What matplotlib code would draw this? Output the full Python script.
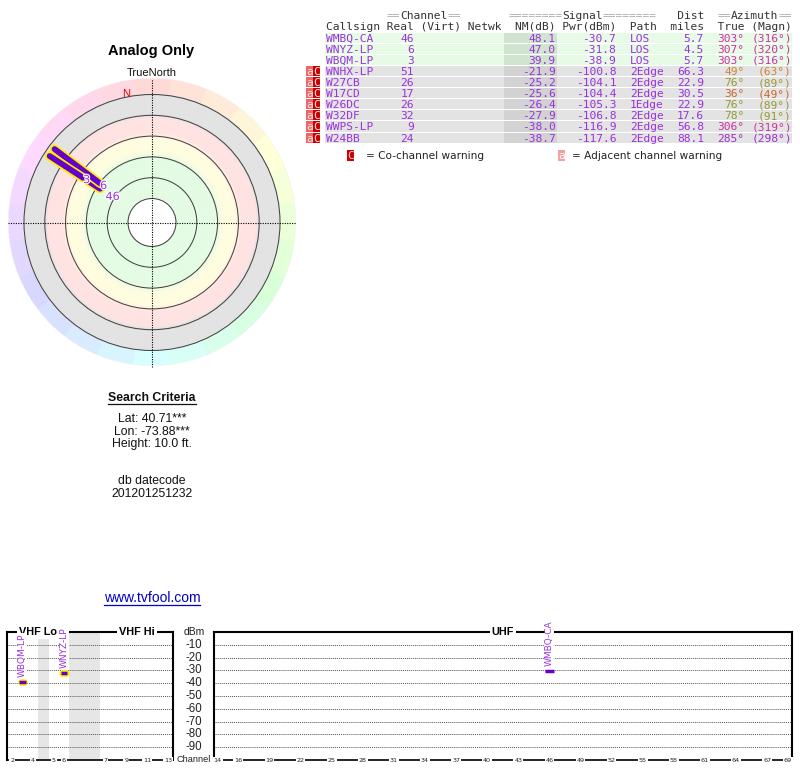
"""TV Fool style signal report: polar plot, station table and channel chart."""
import numpy as np
import matplotlib
matplotlib.use("Agg")
import matplotlib.pyplot as plt
from matplotlib.colors import LinearSegmentedColormap, hsv_to_rgb, to_rgb
from matplotlib.patches import Circle, Rectangle
from matplotlib import patheffects
from matplotlib.transforms import blended_transform_factory

# ---- station table ----
callsigns = ["WMBQ-CA", "WNYZ-LP", "WBQM-LP", "WNHX-LP", "W27CB", "W17CD",
             "W26DC", "W32DF", "WWPS-LP", "W24BB"]
real_ch = [46, 6, 3, 51, 26, 17, 26, 32, 9, 24]
nm_db = [48.1, 47.0, 39.9, -21.9, -25.2, -25.6, -26.4, -27.9, -38.0, -38.7]
pwr_dbm = [-30.7, -31.8, -38.9, -100.8, -104.1, -104.4, -105.3, -106.8, -116.9, -117.6]
path_type = ["LOS", "LOS", "LOS", "2Edge", "2Edge", "2Edge", "1Edge", "2Edge", "2Edge", "2Edge"]
dist_mi = [5.7, 4.5, 5.7, 66.3, 22.9, 30.5, 22.9, 17.6, 56.8, 88.1]
az_true = [303, 307, 303, 49, 76, 36, 76, 78, 306, 285]
az_magn = [316, 320, 316, 63, 89, 49, 89, 91, 319, 298]
warnings = ["", "", "", "aC", "aC", "aC", "aC", "aC", "aC", "aC"]

header_1 = " " * 9 + "==Channel==" + " " * 7 + "=" * 8 + "Signal" + "=" * 8 + "   Dist  ==Azimuth=="
header_2 = "Callsign Real (Virt) Netwk  NM(dB) Pwr(dBm)  Path  miles  True (Magn)"

criteria = ["Lat: 40.71***", "Lon: -73.88***", "Height: 10.0 ft."]
datecode = ["db datecode", "201201251232"]

# ---- channel chart axes ----
dbm_ticks = [-10, -20, -30, -40, -50, -60, -70, -80, -90]
vhf_ticks = [2, 4, 5, 6, 7, 9, 11, 13]
uhf_ticks = [14, 16, 19, 22, 25, 28, 31, 34, 37, 40, 43, 46, 49, 52, 55, 58, 61, 64, 67, 69]

W, H = 800, 768
SANS = "Liberation Sans"
MONO = "DejaVu Sans Mono"
TXT_PURPLE = "#9933dd"
BAR_PURPLE = "#6600cc"
YELLOW = "#ffee00"

az_cmap = LinearSegmentedColormap.from_list("az", [
    (0 / 360, "#cc3333"), (36 / 360, "#cc6633"), (49 / 360, "#cc8833"),
    (76 / 360, "#999933"), (120 / 360, "#33aa33"), (180 / 360, "#33aaaa"),
    (240 / 360, "#3366cc"), (285 / 360, "#9933cc"), (303 / 360, "#cc33aa"),
    (1.0, "#cc3333")])


def vhf_slot(ch):
    # channels 4/5 and 6/7 are not adjacent in frequency
    if ch <= 4:
        return ch - 2
    if ch <= 6:
        return ch - 1
    return ch + 2


fig = plt.figure(figsize=(W / 100, H / 100), dpi=100)
bg = fig.add_axes([0, 0, 1, 1])
bg.set_xlim(0, W)
bg.set_ylim(H, 0)
bg.axis("off")

shown = [i for i in range(len(callsigns)) if nm_db[i] > 0]

# ---------------- table ----------------
X0, CW = 326.0, 6.75
ROW0, PITCH = 37.7, 11.1
FS_MONO = 8.07


def col_x(c):
    return X0 + c * CW


def header_line(s, y):
    c = 0
    while c < len(s):
        j = c
        while j < len(s) and (s[j] == "=") == (s[c] == "="):
            j += 1
        run = s[c:j]
        if run.strip():
            bg.text(col_x(c), y, run, family=MONO, fontsize=FS_MONO,
                    color="#aaaaaa" if run[0] == "=" else "#333333",
                    ha="left", va="center_baseline")
        c = j


header_line(header_1, 15.0)
header_line(header_2, 25.5)

for i in range(len(callsigns)):
    y = ROW0 + i * PITCH
    good = nm_db[i] > 0
    bg.add_patch(Rectangle((col_x(-0.15), y - PITCH / 2 + 0.5), col_x(69) - col_x(-0.15), PITCH - 1,
                           fc="#e6fae6" if good else "#e3e3e3", ec="none"))
    bg.add_patch(Rectangle((col_x(26.4), y - PITCH / 2 + 0.5), col_x(34.2) - col_x(26.4), PITCH - 1,
                           fc="#d0e4d0" if good else "#d2d2d2", ec="none"))
    kw = dict(family=MONO, fontsize=FS_MONO, color=TXT_PURPLE, va="center_baseline")
    bg.text(col_x(0), y, callsigns[i], ha="left", **kw)
    bg.text(col_x(13), y, str(real_ch[i]), ha="right", **kw)
    bg.text(col_x(34), y, f"{nm_db[i]:.1f}", ha="right", **kw)
    bg.text(col_x(43), y, f"{pwr_dbm[i]:.1f}", ha="right", **kw)
    bg.text(col_x(45), y, path_type[i], ha="left", **kw)
    bg.text(col_x(56), y, f"{dist_mi[i]:.1f}", ha="right", **kw)
    kw["color"] = az_cmap(az_true[i] / 360)
    bg.text(col_x(62), y, f"{az_true[i]}°", ha="right", **kw)
    bg.text(col_x(69), y, f"({az_magn[i]}°)", ha="right", **kw)
    for k, ch in enumerate(warnings[i]):
        x = 306 + 7 * k
        bg.add_patch(Rectangle((x, y - PITCH / 2 + 0.5), 7, PITCH - 1,
                               fc="#ee6666" if ch == "a" else "#cc0000", ec="none"))
        bg.text(x + 3.5, y, ch, family=MONO, fontsize=FS_MONO, color="#ffe8e8",
                ha="center", va="center_baseline")

# legend for warning markers
LEG_Y = 155
bg.add_patch(Rectangle((347, LEG_Y - 5.5), 6.5, 11, fc="#cc0000", ec="none"))
bg.text(350.2, LEG_Y, "C", family=MONO, fontsize=FS_MONO, color="#ffcccc", ha="center", va="center_baseline")
bg.text(366, LEG_Y, "= Co-channel warning", family="DejaVu Sans", fontsize=7.6,
        color="#222222", ha="left", va="center_baseline")
bg.add_patch(Rectangle((558, LEG_Y - 5.5), 7, 11, fc="#f4a0a0", ec="none"))
bg.text(561.5, LEG_Y, "a", family=MONO, fontsize=FS_MONO, color="#ffffff", ha="center", va="center_baseline")
bg.text(572, LEG_Y, "= Adjacent channel warning", family="DejaVu Sans", fontsize=7.6,
        color="#222222", ha="left", va="center_baseline")

# ---------------- polar plot ----------------
CX, CY, RP = 152.0, 222.5, 150
axp = fig.add_axes([(CX - RP) / W, (H - CY - RP) / H, 2 * RP / W, 2 * RP / H])
axp.set_xlim(-RP, RP)
axp.set_ylim(-RP, RP)
axp.axis("off")

g = np.linspace(-RP, RP, 601)
X, Y = np.meshgrid(g, g)
R = np.hypot(X, Y)
AZ = np.degrees(np.arctan2(X, Y)) % 360
stop_r = [0, 23.9, 24, 64, 72, 83, 90, 104, 107, 128.5]
stop_c = ["#ffffff", "#ffffff", "#e4fbe4", "#e4fbe4", "#fffde0", "#fffde0",
          "#ffe3e3", "#ffe3e3", "#e3e3e3", "#e3e3e3"]
rgb = np.stack([np.interp(R, stop_r, [to_rgb(c)[k] for c in stop_c]) for k in range(3)], axis=-1)
hue = (np.round(AZ / 15) % 24) * 15 / 360
wheel = hsv_to_rgb(np.stack([hue, np.full_like(hue, 0.15), np.ones_like(hue)], axis=-1))
ring = (R >= 128.5) & (R <= 144)
rgb[ring] = wheel[ring]
img = np.dstack([rgb, (R <= 144).astype(float)])
axp.imshow(img, extent=(-RP, RP, -RP, RP), origin="lower", interpolation="bilinear", zorder=0)

for r in np.linspace(24, 128, 6):
    axp.add_patch(Circle((0, 0), r, fill=False, ec="#444444", lw=0.75, zorder=1))
axp.plot([-144, 144], [0, 0], color="black", lw=0.8, dashes=(1, 1.2), zorder=1)
axp.plot([0, 0], [-144, 144], color="black", lw=0.8, dashes=(1, 1.2), zorder=1)

axp.text(0, 149, "TrueNorth", family=SANS, fontsize=8, ha="center", va="center", color="#111111")
decl = np.radians(az_magn[0] - az_true[0])
axp.text(-132 * np.sin(decl), 132 * np.cos(decl), "N", family=SANS, fontsize=8,
         color="#ee0000", ha="left", va="center")


def r_inner(nm):
    # radial NM scale of the polar plot (stronger signal -> closer to centre)
    return 122 - (nm - 23.5) * 2.44


for i in shown:
    a = np.radians(az_true[i])
    rr = np.array([r_inner(nm_db[i]), 122])
    axp.plot(rr * np.sin(a), rr * np.cos(a), color=YELLOW, lw=6.6, solid_capstyle="round", zorder=3)
    axp.plot(rr * np.sin(a), rr * np.cos(a), color=BAR_PURPLE, lw=4.2, solid_capstyle="round", zorder=3)

placed = []
for i in sorted(shown, key=lambda k: nm_db[k]):
    a = np.radians(az_true[i])
    r = r_inner(nm_db[i]) - 4
    while any(np.hypot(r * np.sin(a) - px, r * np.cos(a) - py) < 11 for px, py in placed):
        r -= 11
    placed.append((r * np.sin(a), r * np.cos(a)))
    axp.text(r * np.sin(a), r * np.cos(a), str(real_ch[i]), family="DejaVu Sans", fontsize=8,
             color=TXT_PURPLE, ha="center", va="center", zorder=5,
             path_effects=[patheffects.withStroke(linewidth=1.6, foreground="white")])

# ---------------- side texts ----------------
bg.text(151.5, 51, "Analog Only", family=SANS, fontsize=10.5, weight="bold", ha="center", va="center")
t_sc = bg.text(152, 398, "Search Criteria", family=SANS, fontsize=8.8, weight="bold",
               ha="center", va="center", color="#111111")
for k, s in enumerate(criteria):
    bg.text(152, 419.3 + 12.4 * k, s, family=SANS, fontsize=8.8, ha="center", va="center", color="#111111")
for k, s in enumerate(datecode):
    bg.text(152, 481.5 + 12.4 * k, s, family=SANS, fontsize=8.8, ha="center", va="center", color="#111111")
t_url = bg.text(152, 598, "www.tvfool.com", family=SANS, fontsize=10, ha="center", va="center", color="#0000cc")

# ---------------- channel chart ----------------
BOX_TOP, BOX_BOT = 632, 760
ax_v = fig.add_axes([7 / W, (H - BOX_BOT) / H, 166 / W, (BOX_BOT - BOX_TOP) / H])
ax_u = fig.add_axes([214 / W, (H - BOX_BOT) / H, 578 / W, (BOX_BOT - BOX_TOP) / H])
ax_v.set_xlim(-0.5, 15.5)
ax_u.set_xlim(13.65, 69.4)
for ax in (ax_v, ax_u):
    ax.set_ylim(-100, 0)
    ax.set_xticks([])
    ax.set_yticks([])
    for side, sp in ax.spines.items():
        sp.set_linewidth(1.2 if side == "bottom" else 1.5)
        sp.set_color("black")
    lo, hi = ax.get_xlim()
    ax.hlines(dbm_ticks, lo, hi, colors="#555555", lw=0.7, linestyles=(0, (1, 1)), zorder=1)

ax_v.axvspan(2.5, 3.5, color="#e6e6e6", lw=0, zorder=0)
ax_v.axvspan(5.5, 8.5, color="#e6e6e6", lw=0, zorder=0)

title_kw = dict(family=SANS, fontsize=7.8, weight="bold", ha="center", va="center", zorder=6,
                bbox=dict(fc="white", ec="none", pad=1.5), clip_on=False)
ax_v.text(2.5, 0, "VHF Lo", **title_kw)
ax_v.text(12, 0, "VHF Hi", **title_kw)
ax_u.text(sum(ax_u.get_xlim()) / 2, 0, "UHF", **title_kw)

tick_kw = dict(family="DejaVu Sans", fontsize=4.6, ha="center", va="center", zorder=6, color="#222222",
               bbox=dict(fc="white", ec="none", pad=0.6), clip_on=False)
for ch in vhf_ticks:
    ax_v.text(vhf_slot(ch), -100, str(ch), **tick_kw)
for ch in uhf_ticks:
    ax_u.text(ch, -100, str(ch), **tick_kw)

trans = blended_transform_factory(bg.transData, ax_v.transData)
for v in dbm_ticks:
    fig.text(194, v, str(v), transform=trans, family=SANS, fontsize=8.3, ha="center", va="center", color="#222222")
fig.text(194, 0, "dBm", transform=trans, family=SANS, fontsize=7.4, ha="center", va="center", color="#222222")
fig.text(194, -100, "Channel", transform=trans, family=SANS, fontsize=6.6, ha="center", va="center", color="#222222")

for i in shown:
    ch = real_ch[i]
    if ch < 14:
        ax, x = ax_v, vhf_slot(ch)
        ax.plot([x - 0.17, x + 0.17], [pwr_dbm[i]] * 2, color=YELLOW, lw=4.8, solid_capstyle="round", zorder=4)
        ax.plot([x - 0.32, x + 0.32], [pwr_dbm[i]] * 2, color=BAR_PURPLE, lw=2.5, solid_capstyle="butt", zorder=4)
    else:
        ax, x = ax_u, ch
        ax.plot([x - 0.43, x + 0.43], [pwr_dbm[i]] * 2, color=BAR_PURPLE, lw=2.5, solid_capstyle="butt", zorder=4)
    ax.text(x, pwr_dbm[i] + 4, callsigns[i], rotation=90, family="DejaVu Sans", fontsize=6.5,
            color=TXT_PURPLE, ha="center", va="bottom", zorder=7, clip_on=False,
            bbox=dict(fc="white", ec="none", pad=0.2))

# underlines for the two underlined texts
fig.canvas.draw()
renderer = fig.canvas.get_renderer()
for t, dy in ((t_sc, 6.0), (t_url, 6.5)):
    bb = t.get_window_extent(renderer)
    yy = H - (bb.y0 + bb.y1) / 2 + dy
    bg.plot([bb.x0, bb.x1], [yy, yy], color=t.get_color(), lw=0.9)

fig.savefig("out.png", dpi=100)
